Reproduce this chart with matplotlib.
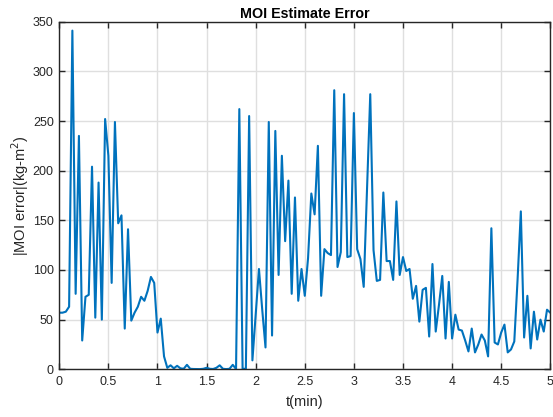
import matplotlib
matplotlib.use("Agg")
import matplotlib.pyplot as plt
import numpy as np

# time samples (minutes), 2-second spacing
t_min = np.arange(151) / 30.0

moi_error = [
    57, 57, 58, 63, 341, 76, 235, 29, 73, 75,
    204, 52, 188, 50, 252, 215, 87, 249, 147, 155,
    41, 141, 49, 57, 63, 73, 69, 79, 93, 87,
    37, 51, 13, 1.5, 4, 1, 3.5, 1, 0.5, 4.5,
    0.5, 0.3, 0.3, 0.2, 0.5, 1.5, 0.5, 0.3, 1.5, 4,
    0.5, 0.2, 0.5, 4.5, 0.3, 262, 0.5, 0.5, 255, 9,
    55, 101, 60, 22, 249, 34, 240, 95, 215, 129,
    190, 76, 173, 69, 101, 74, 112, 177, 156, 225,
    74, 121, 117, 115, 281, 103, 118, 277, 113, 114,
    258, 121, 111, 83, 180, 277, 120, 89, 90, 178,
    109, 109, 90, 169, 95, 113, 99, 101, 71, 84,
    48, 80, 82, 33, 106, 38, 65, 94, 31, 88,
    31, 55, 40, 39, 29, 18, 41, 17, 25, 35,
    29, 13, 142, 27, 25, 37, 45, 17, 20, 28,
    90, 159, 32, 74, 21, 58, 30, 50, 38, 60,
    57,
]

x_ticks = [0, 0.5, 1, 1.5, 2, 2.5, 3, 3.5, 4, 4.5, 5]
x_tick_labels = ["0", "0.5", "1", "1.5", "2", "2.5", "3", "3.5", "4", "4.5", "5"]
y_ticks = [0, 50, 100, 150, 200, 250, 300, 350]

plt.rcParams['font.family'] = ['Liberation Sans', 'DejaVu Sans']

fig = plt.figure(figsize=(5.53, 4.17), dpi=100)
ax = fig.add_axes([0.1072, 0.1144, 0.8879, 0.8336])

ax.plot(t_min, moi_error, color='#0072BD', linewidth=1.5)

ax.set_xlim(0, 5)
ax.set_ylim(0, 350)
ax.set_xticks(x_ticks)
ax.set_xticklabels(x_tick_labels)
ax.set_yticks(y_ticks)

axcol = '#262626'
for s in ax.spines.values():
    s.set_color(axcol)
    s.set_linewidth(1.0)
ax.tick_params(direction='in', length=4, width=1.0, colors=axcol,
               labelsize=9, top=True, right=True, labelcolor=axcol)
ax.tick_params(axis='x', pad=5)
ax.tick_params(axis='y', pad=4)
ax.grid(True, color='#dfdfdf', linewidth=1.0)
ax.set_axisbelow(True)

ax.set_title('MOI Estimate Error', fontsize=10.3, fontweight='bold', pad=3, color='black')
ax.set_xlabel('t(min)', fontsize=10.5, color=axcol, labelpad=5)
ax.set_ylabel('|MOI error|(kg-m$^2$)', fontsize=10.5, color=axcol, labelpad=1)

fig.savefig('out.png', dpi=100)
